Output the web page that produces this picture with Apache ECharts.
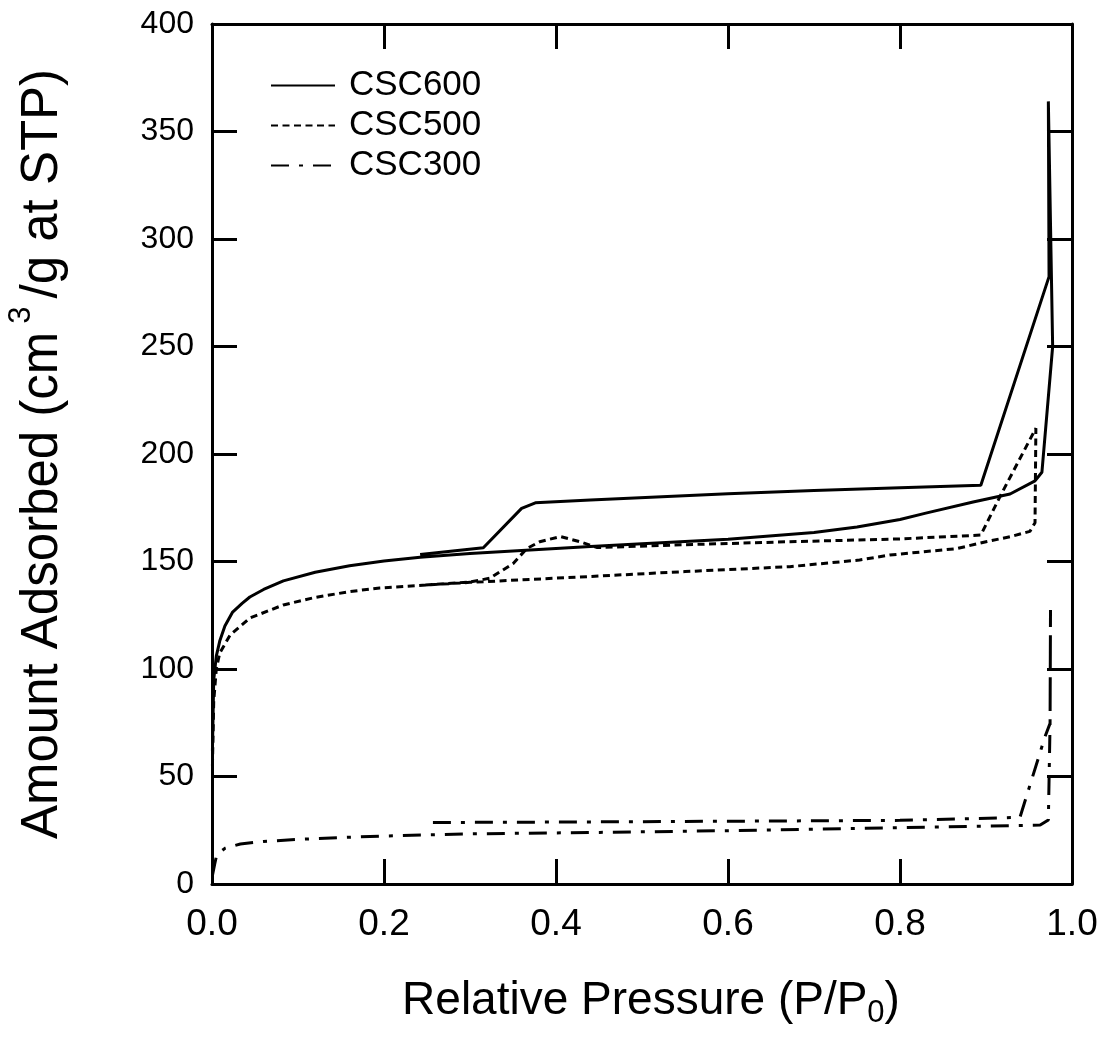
<!DOCTYPE html>
<html>
<head>
<meta charset="utf-8">
<script src="https://cdn.jsdelivr.net/npm/echarts@6/dist/echarts.min.js"></script>
<style>
  html, body { margin: 0; padding: 0; background: #fff; }
  #chart { width: 1102px; height: 1038px; }
</style>
</head>
<body>
<div id="chart"></div>
<script>
// relative pressure (P/P0) and amount adsorbed
// CSC600 - adsorption then desorption
const csc600AdsP = [0.0005, 0.002, 0.005, 0.009, 0.015, 0.024, 0.035, 0.044, 0.06, 0.083, 0.12, 0.16, 0.2, 0.242, 0.3, 0.44, 0.5, 0.6, 0.7, 0.75, 0.8, 0.83, 0.885, 0.928, 0.957, 0.965, 0.9775, 0.9725];
const csc600AdsV = [62, 95, 106, 113, 120, 126.5, 130.5, 133.5, 137, 141, 145, 148, 150.2, 152, 153.7, 157, 158.3, 160.3, 163.5, 166, 169.5, 172.5, 177.7, 181.4, 187.5, 191.5, 250, 364];
const csc600DesP = [0.9733, 0.894, 0.8, 0.7, 0.6, 0.44, 0.376, 0.36, 0.3155, 0.242];
const csc600DesV = [282.5, 185.5, 184.3, 183, 181.5, 178.6, 177.3, 174.7, 156.4, 153.3];

// CSC500
const csc500AdsP = [0.0005, 0.002, 0.005, 0.009, 0.021, 0.044, 0.083, 0.12, 0.16, 0.195, 0.3, 0.428, 0.55, 0.672, 0.753, 0.788, 0.866, 0.9, 0.928, 0.951, 0.957, 0.958];
const csc500AdsV = [55, 85, 100, 107.4, 115.8, 123.7, 129.8, 133.3, 136, 137.7, 140.3, 142.8, 145.3, 147.6, 150.7, 153, 156, 159.2, 161.5, 164, 168, 212];
const csc500DesP = [0.916, 0.894, 0.8, 0.672, 0.55, 0.448, 0.428, 0.405, 0.381, 0.366, 0.35, 0.323, 0.3, 0.245];
const csc500DesV = [180, 162.3, 160.5, 159.2, 157.8, 156.5, 159.2, 161.6, 159.2, 156, 149, 142.2, 140.5, 139];

// CSC300
const csc300AdsP = [0.0005, 0.003, 0.005, 0.01, 0.015, 0.033, 0.06, 0.102, 0.15, 0.199, 0.296, 0.451, 0.6, 0.753, 0.85, 0.963, 0.9725, 0.9745, 0.975];
const csc300AdsV = [4, 9, 12.7, 15, 16.6, 18.6, 19.8, 20.8, 21.6, 22.3, 23.3, 24, 24.8, 25.9, 26.6, 27.4, 29.8, 74.7, 127.4];
const csc300DesP = [0.9745, 0.9686, 0.9395, 0.8, 0.6, 0.4, 0.2516];
const csc300DesV = [74.7, 68.5, 31, 29.6, 29.2, 28.8, 28.6];

const seriesNames = ["CSC600", "CSC500", "CSC300"];
const xTicks = ["0.0", "0.2", "0.4", "0.6", "0.8", "1.0"];

// join the two branches into one [x, y] list
function pairs(p1, v1, p2, v2) {
  const out = [];
  p1.forEach((p, i) => out.push([p, v1[i]]));
  p2.forEach((p, i) => out.push([p, v2[i]]));
  return out;
}

const chart = echarts.init(document.getElementById("chart"));
const font = "'Liberation Sans', Arial, Helvetica, sans-serif";

// box round the plot: ticks inward on all four sides
const axisLine = { show: true, onZero: false, lineStyle: { color: "#000", width: 3 } };
const axisTick = { show: true, inside: true, length: 25, lineStyle: { color: "#000", width: 3 } };

chart.setOption({
  animation: false,
  backgroundColor: "#fff",
  textStyle: { fontFamily: font, color: "#000" },
  grid: { left: 212, right: 30, top: 24, bottom: 154, outerBoundsMode: "none", containLabel: false },
  legend: {
    data: seriesNames,
    orient: "vertical",
    left: 265,
    top: 63,
    itemWidth: 64,
    itemHeight: 20,
    itemGap: 5,
    itemStyle: { opacity: 0 },
    textStyle: { fontFamily: font, fontSize: 35, color: "#000", padding: [0, 0, 0, 9] },
  },
  xAxis: [
    {
      type: "value",
      min: 0,
      max: 1,
      interval: 0.2,
      position: "bottom",
      name: "Relative Pressure (P/P{sub|0})",
      nameLocation: "middle",
      nameGap: 90,
      nameTextStyle: {
        fontFamily: font,
        fontSize: 46,
        color: "#000",
        padding: [0, 0, 0, 18],
        rich: { sub: { fontFamily: font, fontSize: 31, verticalAlign: "bottom", padding: [24, 0, 0, 0] } },
      },
      axisLine: axisLine,
      axisTick: axisTick,
      splitLine: { show: false },
      axisLabel: {
        fontFamily: font,
        fontSize: 37,
        color: "#000",
        margin: 22,
        formatter: (v) => xTicks[Math.round(v / 0.2)],
      },
    },
    {
      type: "value",
      min: 0,
      max: 1,
      interval: 0.2,
      position: "top",
      axisLine: axisLine,
      axisTick: axisTick,
      axisLabel: { show: false },
      splitLine: { show: false },
    },
  ],
  yAxis: [
    {
      type: "value",
      min: 0,
      max: 400,
      interval: 50,
      position: "left",
      name: "Amount Adsorbed (cm{sup|3}/g at STP)",
      nameLocation: "middle",
      nameRotate: 90,
      nameGap: 133,
      nameTextStyle: {
        fontFamily: font,
        fontSize: 51,
        color: "#000",
        rich: { sup: { fontFamily: font, fontSize: 31, verticalAlign: "top", padding: [0, 8, 42, 8] } },
      },
      axisLine: axisLine,
      axisTick: axisTick,
      splitLine: { show: false },
      axisLabel: { fontFamily: font, fontSize: 32, color: "#000", margin: 18 },
    },
    {
      type: "value",
      min: 0,
      max: 400,
      interval: 50,
      position: "right",
      axisLine: axisLine,
      axisTick: axisTick,
      axisLabel: { show: false },
      splitLine: { show: false },
    },
  ],
  series: [
    {
      name: "CSC600",
      type: "line",
      data: pairs(csc600AdsP, csc600AdsV, csc600DesP, csc600DesV),
      symbol: "none",
      clip: true,
      lineStyle: { color: "#000", width: 3, type: "solid" },
      itemStyle: { color: "#000" },
    },
    {
      name: "CSC500",
      type: "line",
      data: pairs(csc500AdsP, csc500AdsV, csc500DesP, csc500DesV),
      symbol: "none",
      clip: true,
      lineStyle: { color: "#000", width: 3, type: [7, 4.5] },
      itemStyle: { color: "#000" },
    },
    {
      name: "CSC300",
      type: "line",
      data: pairs(csc300AdsP, csc300AdsV, csc300DesP, csc300DesV),
      symbol: "none",
      clip: true,
      lineStyle: { color: "#000", width: 3, type: [18, 10, 4, 10] },
      itemStyle: { color: "#000" },
    },
  ],
});
</script>
</body>
</html>
